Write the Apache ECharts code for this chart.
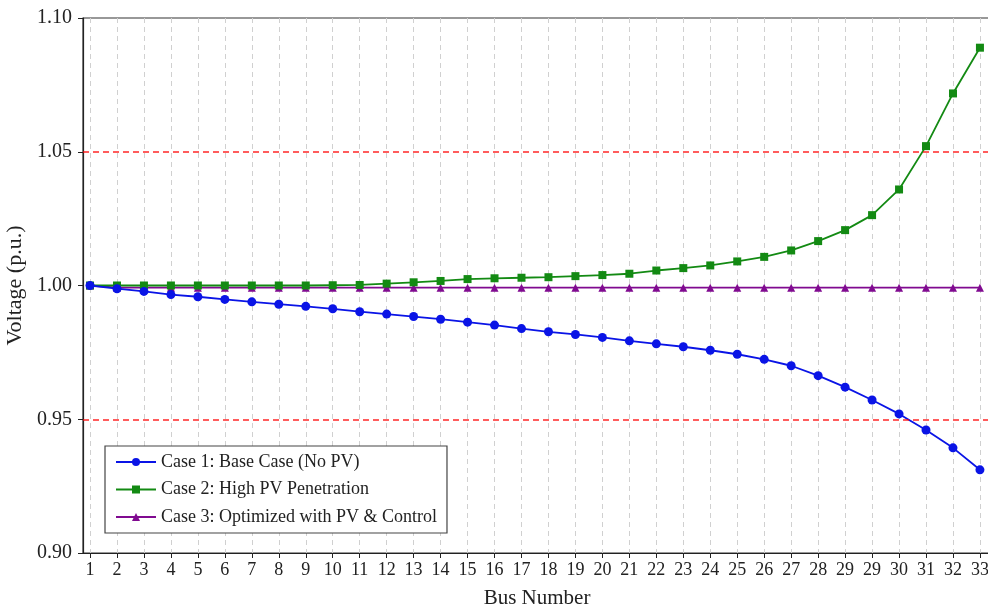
<!DOCTYPE html>
<html>
<head>
<meta charset="utf-8">
<script src="https://cdn.jsdelivr.net/npm/echarts@6/dist/echarts.min.js"></script>
<style>html,body{margin:0;padding:0;background:#fff}#c{width:988px;height:612px}</style>
</head>
<body>
<div id="c"></div>
<script>
const busLabels = ['1','2','3','4','5','6','7','8','9','10','11','12','13','14','15','16','17','18','19','20','21','22','23','24','25','26','27','28','29','29','30','31','32','33'];
const case1 = [1.0000,0.9988,0.9978,0.9966,0.9958,0.9948,0.9939,0.9930,0.9922,0.9913,0.9902,0.9893,0.9884,0.9874,0.9863,0.9852,0.9839,0.9827,0.9817,0.9806,0.9793,0.9782,0.9771,0.9758,0.9743,0.9724,0.9700,0.9663,0.9620,0.9572,0.9520,0.9460,0.9393,0.9311];
const case2 = [1.0000,1.0000,1.0000,1.0000,1.0000,1.0000,1.0000,1.0000,1.0000,1.0001,1.0002,1.0007,1.0012,1.0017,1.0024,1.0027,1.0029,1.0031,1.0035,1.0039,1.0044,1.0056,1.0065,1.0075,1.0090,1.0107,1.0131,1.0166,1.0207,1.0263,1.0359,1.0521,1.0718,1.0889];
const case3 = [1.0000,0.9992,0.9992,0.9992,0.9992,0.9992,0.9992,0.9992,0.9992,0.9992,0.9992,0.9992,0.9992,0.9992,0.9992,0.9992,0.9992,0.9992,0.9992,0.9992,0.9992,0.9992,0.9992,0.9992,0.9992,0.9992,0.9992,0.9992,0.9992,0.9992,0.9992,0.9992,0.9992,0.9992];
const seriesNames = ['Case 1: Base Case (No PV)','Case 2: High PV Penetration','Case 3: Optimized with PV & Control'];
const limits = [1.05, 0.95];

const positions = busLabels.map((_, i) => i + 1);
const toPairs = arr => arr.map((v, i) => [positions[i], v]);
const font = 'Liberation Serif';
const limitStyle = {color: '#ff0000', type: [6, 4], width: 1.5, opacity: 0.85};

const chart = echarts.init(document.getElementById('c'), null, {renderer: 'canvas'});
chart.setOption({
  animation: false,
  backgroundColor: '#fff',
  textStyle: {fontFamily: font},
  grid: {left: 83, top: 18, bottom: 59, right: -3, outerBoundsMode: 'none', containLabel: false,
    show: true, borderColor: '#333', borderWidth: 1.2, backgroundColor: 'transparent'},
  legend: {
    orient: 'vertical', left: 105, top: 446,
    data: seriesNames,
    itemWidth: 40, itemHeight: 10, itemGap: 9.5,
    padding: [7, 10, 7, 10],
    backgroundColor: '#fff', borderColor: '#444', borderWidth: 1.2,
    textStyle: {fontFamily: font, fontSize: 18, color: '#222'}
  },
  xAxis: {
    type: 'value', min: 0.74, max: 34.41,
    name: 'Bus Number', nameLocation: 'middle', nameGap: 35,
    nameTextStyle: {fontFamily: font, fontSize: 21, color: '#222'},
    axisLine: {show: true, onZero: false, lineStyle: {color: '#222', width: 1.2}},
    axisTick: {show: true, length: 5, customValues: positions, lineStyle: {color: '#222'}},
    axisLabel: {customValues: positions, margin: 8, fontFamily: font, fontSize: 18, color: '#222',
      formatter: v => busLabels[Math.round(v) - 1] || ''},
    splitLine: {show: true, lineStyle: {color: '#d0d0d0', type: [5, 4], width: 1}}
  },
  yAxis: {
    type: 'value', min: 0.90, max: 1.10, interval: 0.05,
    name: 'Voltage (p.u.)', nameLocation: 'middle', nameGap: 53,
    nameTextStyle: {fontFamily: font, fontSize: 22, color: '#222'},
    axisLine: {show: true, lineStyle: {color: '#222', width: 1.2}},
    axisTick: {show: true, length: 5, lineStyle: {color: '#222'}},
    axisLabel: {margin: 11, fontFamily: font, fontSize: 20, color: '#222', formatter: v => v.toFixed(2)},
    splitLine: {show: false}
  },
  series: [
    {
      name: seriesNames[0], type: 'line', data: toPairs(case1),
      symbol: 'circle', symbolSize: 9, z: 4,
      itemStyle: {color: '#0a14e6'}, lineStyle: {color: '#0a14e6', width: 1.8},
      markLine: {
        silent: true, symbol: ['none', 'none'], label: {show: false},
        lineStyle: limitStyle,
        emphasis: {disabled: true},
        data: limits.map(v => ({yAxis: v, lineStyle: limitStyle}))
      }
    },
    {
      name: seriesNames[1], type: 'line', data: toPairs(case2),
      symbol: 'rect', symbolSize: 8, z: 3,
      itemStyle: {color: '#138a13'}, lineStyle: {color: '#138a13', width: 1.8}
    },
    {
      name: seriesNames[2], type: 'line', data: toPairs(case3),
      symbol: 'triangle', symbolSize: 8, z: 2,
      itemStyle: {color: '#800a90'}, lineStyle: {color: '#800a90', width: 1.8}
    }
  ]
});
</script>
</body>
</html>
